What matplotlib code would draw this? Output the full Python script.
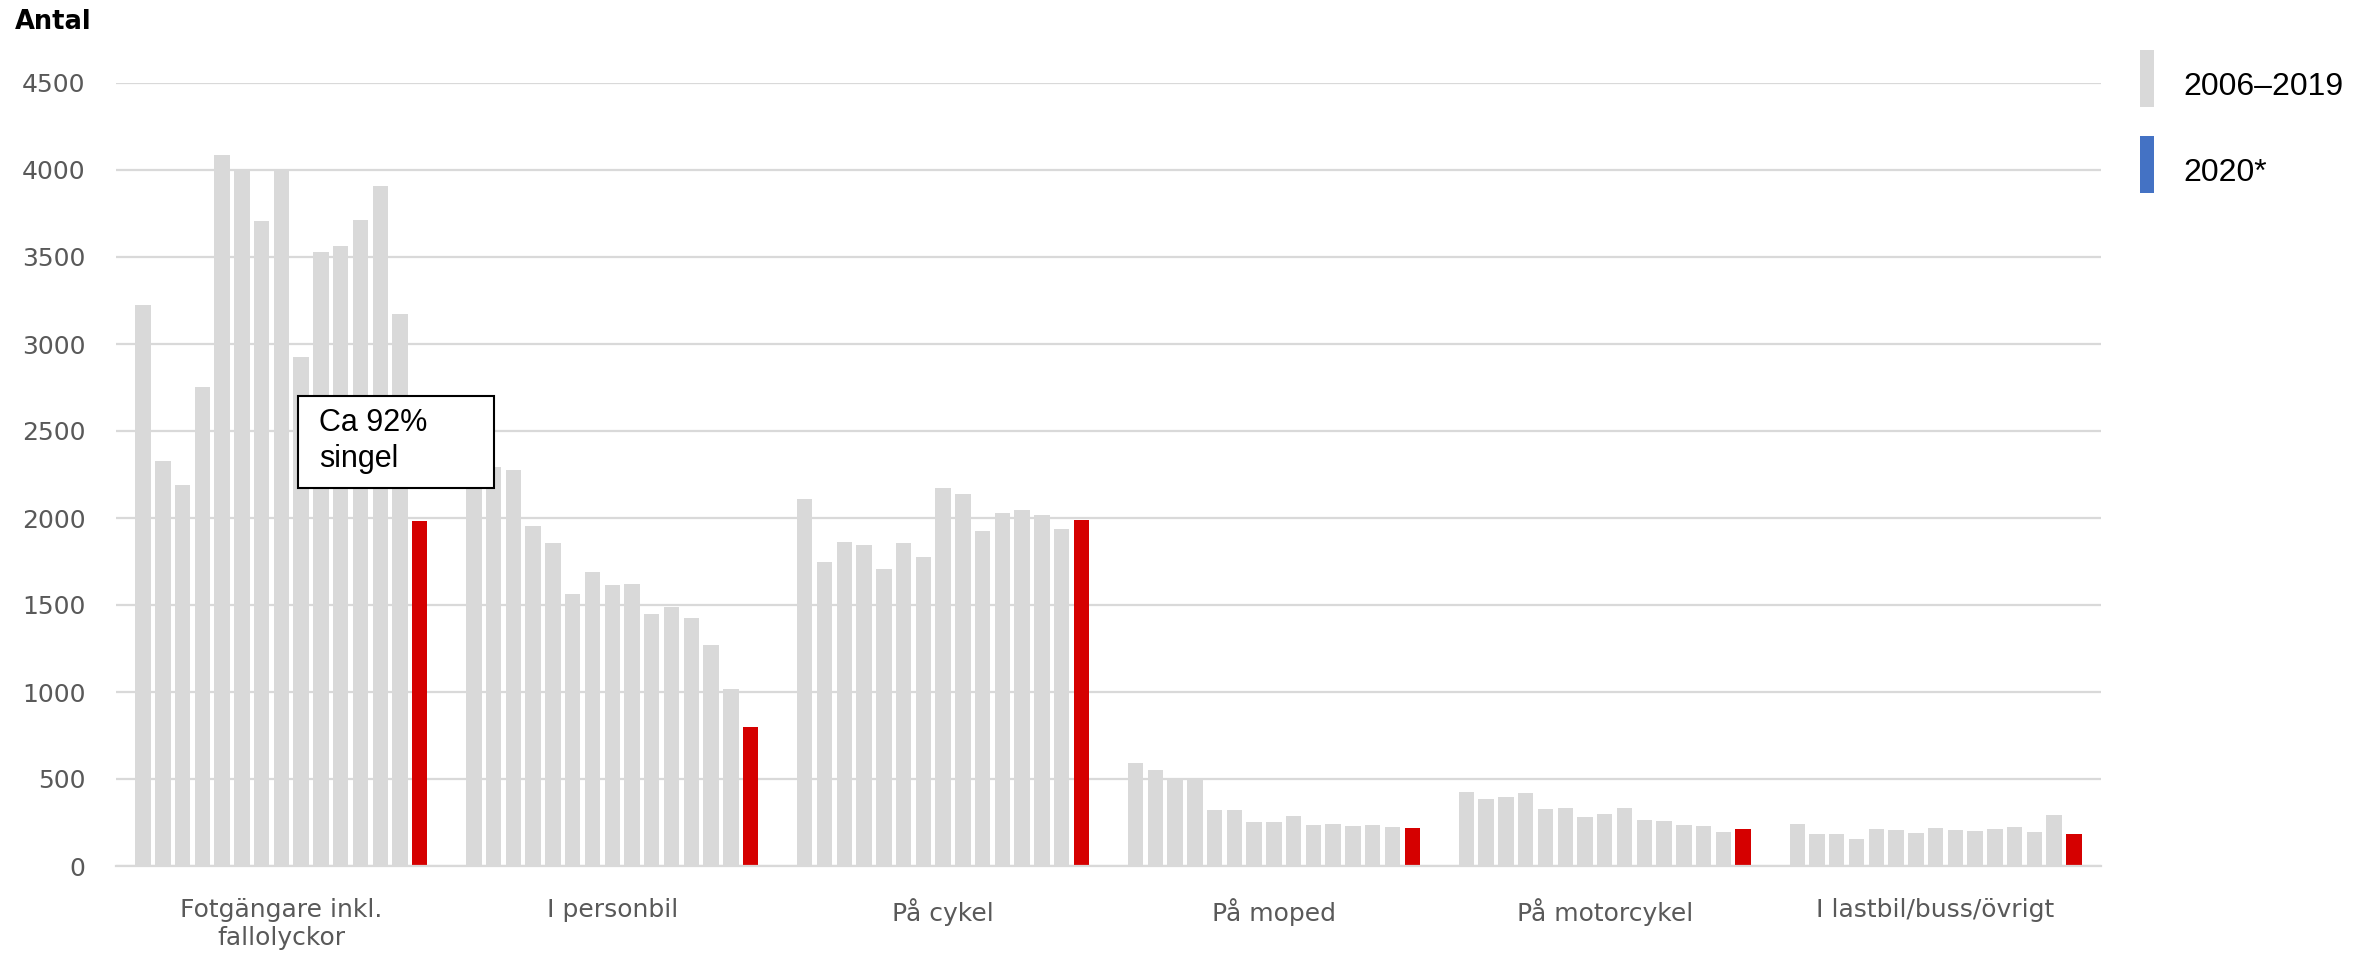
import matplotlib
matplotlib.use("Agg")
import matplotlib.pyplot as plt
from matplotlib.patches import Rectangle
import numpy as np

categories = ["Fotgängare inkl.\nfallolyckor", "I personbil", "På cykel",
              "På moped", "På motorcykel", "I lastbil/buss/övrigt"]
years = list(range(2006, 2021))

fotgangare = [3226, 2326, 2188, 2753, 4087, 4006, 3706, 3992, 2926, 3526, 3562, 3713, 3907, 3173, 1980]
personbil = [2230, 2294, 2277, 1952, 1857, 1564, 1687, 1613, 1620, 1451, 1490, 1426, 1271, 1020, 801]
cykel = [2107, 1747, 1864, 1846, 1705, 1857, 1776, 2171, 2136, 1924, 2030, 2044, 2016, 1935, 1989]
moped = [592, 550, 508, 502, 320, 320, 251, 251, 285, 238, 239, 228, 234, 222, 220]
motorcykel = [423, 383, 395, 418, 328, 331, 280, 301, 331, 264, 261, 234, 230, 195, 211]
lastbil = [243, 182, 186, 153, 211, 205, 188, 216, 205, 199, 213, 224, 193, 291, 184]
series = [fotgangare, personbil, cykel, moped, motorcykel, lastbil]

legend_labels = ["2006–2019", "2020*"]
yticks = list(range(0, 5000, 500))

GRAY = "#d9d9d9"
RED = "#d50000"
BLUE = "#4472c4"
TXT = "#595959"

W, H = 2369, 963
fig = plt.figure(figsize=(W / 100, H / 100), dpi=100)
ax = fig.add_axes([116 / W, 97 / H, (2101 - 116) / W, (866 - 83) / H])

n = len(years)
group_w = 0.896
slot = group_w / n
for i, vals in enumerate(series):
    xs = i - group_w / 2 + (np.arange(n) + 0.5) * slot
    colors = [GRAY] * (n - 1) + [RED]
    ax.bar(xs, vals, width=slot * 0.78, color=colors, zorder=2, linewidth=0)

ax.set_xlim(-0.5, len(categories) - 0.5)
ax.set_ylim(0, 4500)
ax.set_yticks(yticks)
ax.set_yticklabels([str(t) for t in yticks])
ax.set_xticks(range(len(categories)))
ax.set_xticklabels(categories)
ax.tick_params(axis="both", length=0, labelsize=18, labelcolor=TXT)
ax.tick_params(axis="y", pad=22)
ax.tick_params(axis="x", pad=23)
ax.grid(axis="y", color=GRAY, linewidth=1.6, zorder=0)
for s in ["top", "right", "left"]:
    ax.spines[s].set_visible(False)
ax.spines["bottom"].set_color(GRAY)
ax.spines["bottom"].set_linewidth(1.6)

# annotation box
ax.add_patch(Rectangle((0.0917, 0.4828), 0.0987, 0.1175, transform=ax.transAxes,
                       facecolor="white", edgecolor="black", linewidth=1.5, zorder=5))
ax.text(0.1023, 0.543, "Ca 92%\nsingel", transform=ax.transAxes, ha="left", va="center",
        fontsize=22, family="Liberation Sans", linespacing=1.25, zorder=6, color="black")

# y-axis title
fig.text(15 / W, 1 - 22 / H, "Antal", fontsize=18.5, fontweight="bold", ha="left", va="center")

# legend
for k, (lab, col) in enumerate(zip(legend_labels, [GRAY, BLUE])):
    y0 = 50 + k * 86
    fig.add_artist(Rectangle((2140 / W, 1 - (y0 + 57) / H), 14 / W, 57 / H,
                             transform=fig.transFigure, facecolor=col, edgecolor="none"))
    fig.text(2183 / W, 1 - (y0 + 37) / H, lab, fontsize=23, family="Liberation Sans",
             ha="left", va="center", color="black")

fig.savefig("out.png", dpi=100)
